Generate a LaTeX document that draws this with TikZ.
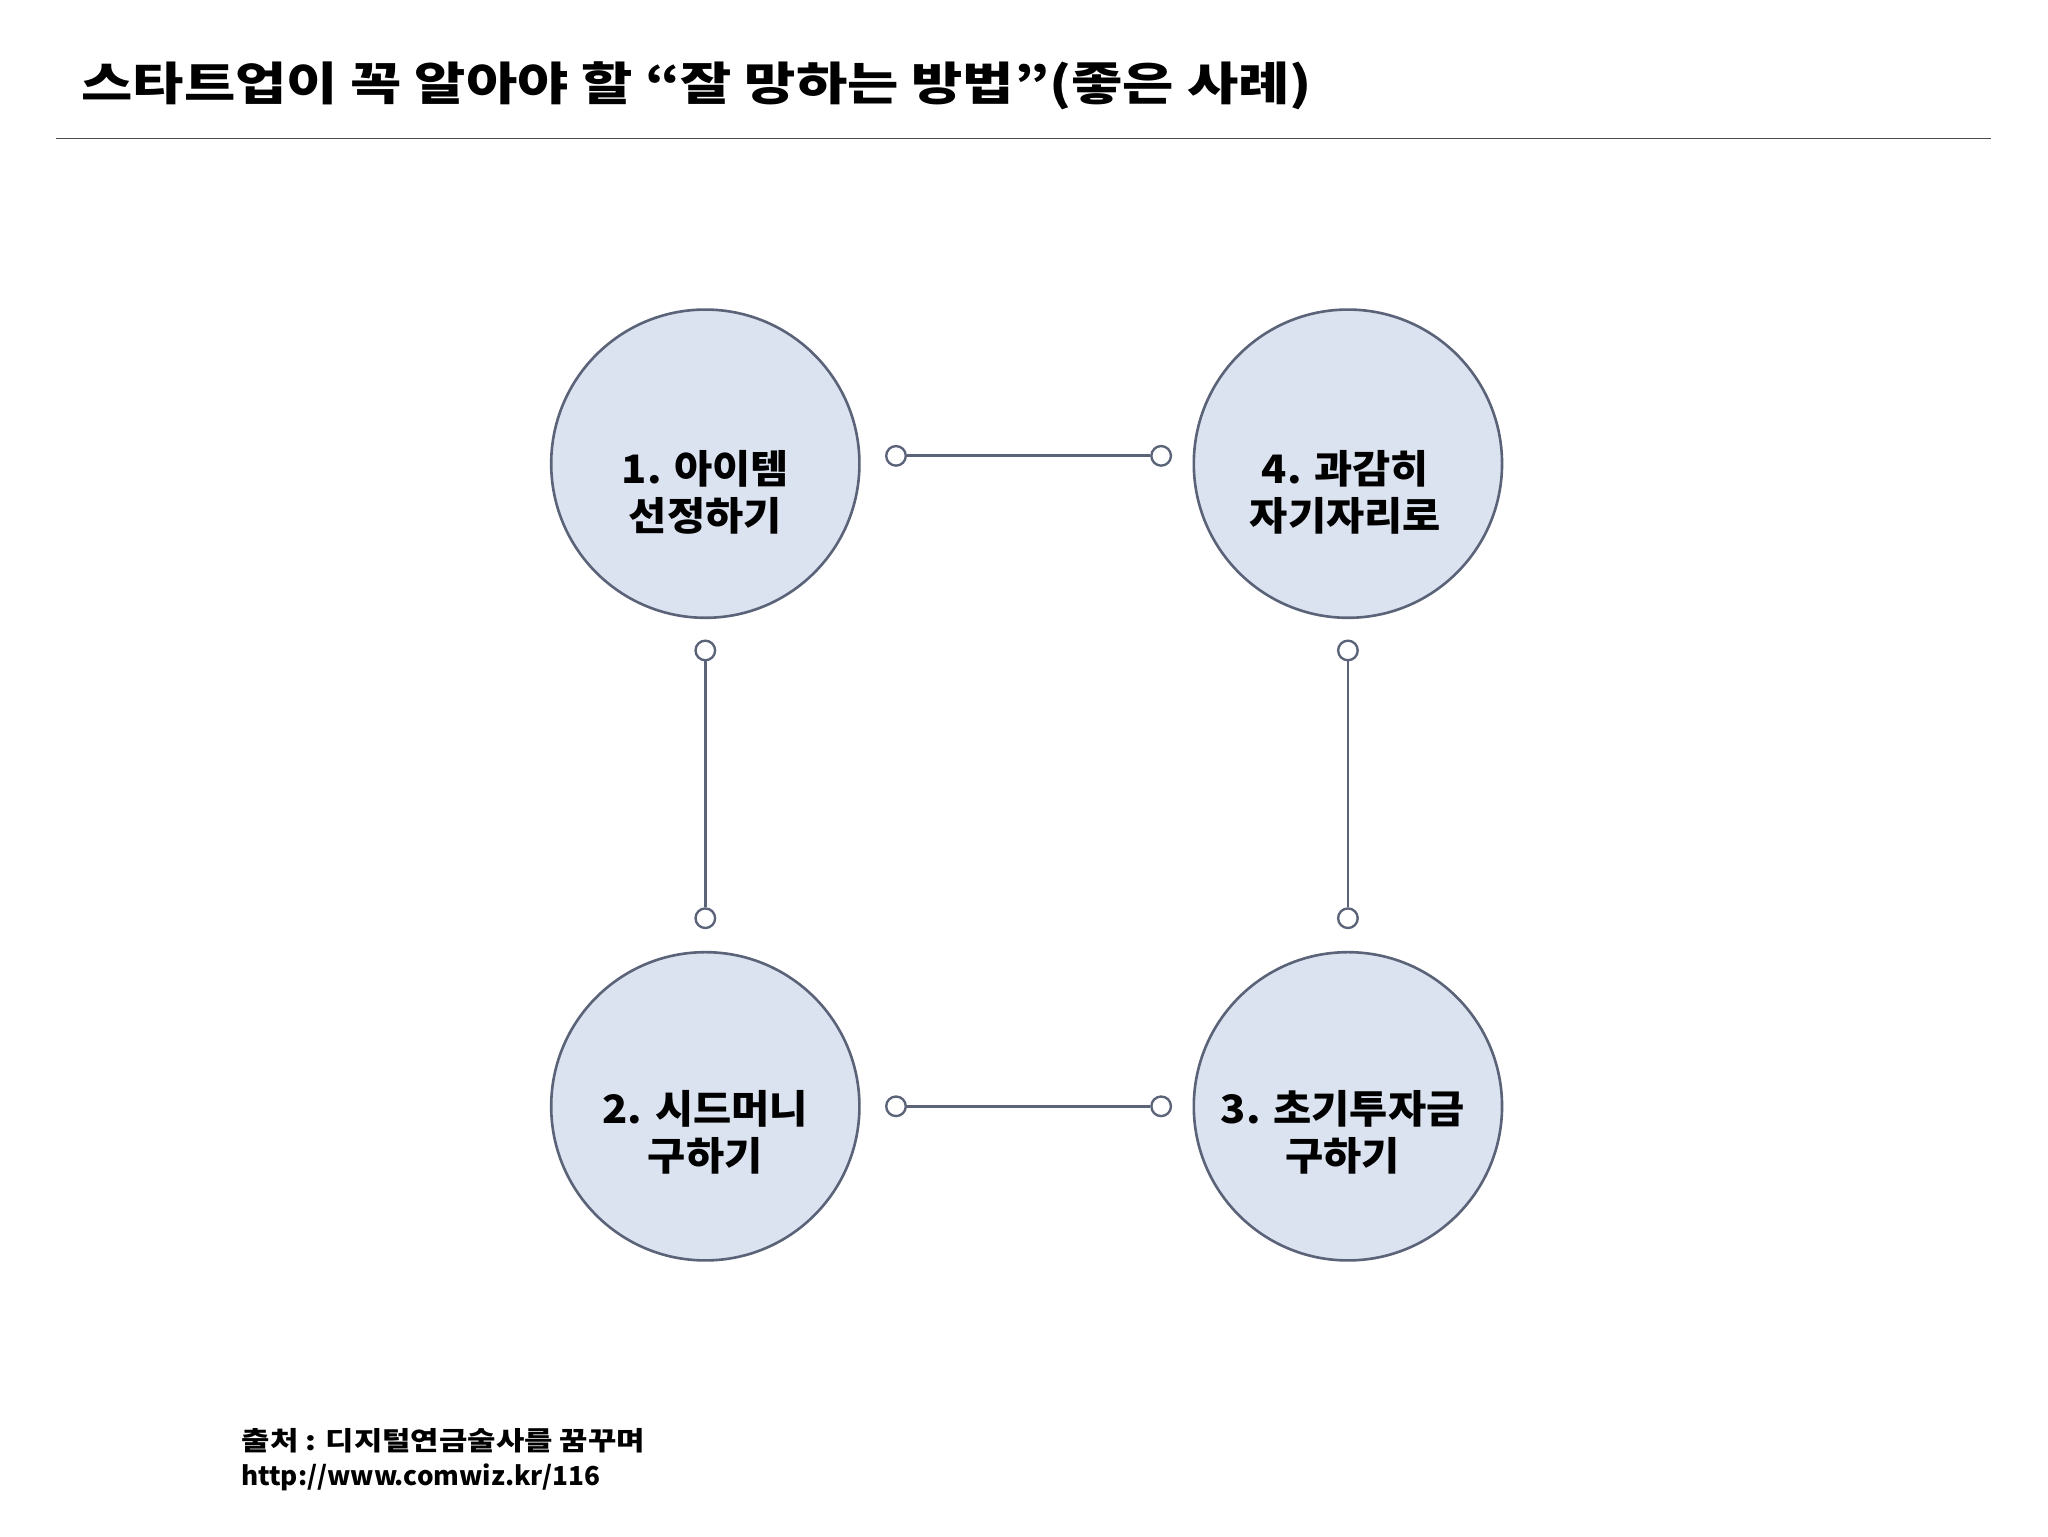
\documentclass[tikz,border=0pt]{standalone}
\usepackage{fontspec}
\setmainfont{Noto Sans CJK KR}
\definecolor{cfill}{HTML}{DCE3F0}
\definecolor{cline}{HTML}{5A6378}
\begin{document}
\begin{tikzpicture}[x=1pt,y=-1pt,
  big/.style={circle,draw=cline,line width=2pt,fill=cfill,minimum size=236pt,inner sep=0pt},
  txt/.style={align=center,font=\fontsize{30}{36}\selectfont\bfseries,xscale=1.06},
  dot/.style={circle,draw=cline,line width=1.8pt,fill=white,minimum size=15pt,inner sep=0pt},
  link/.style={draw=cline,line width=2.2pt}]
\useasboundingbox (0,0) rectangle (1568,1176);
\fill[white] (0,0) rectangle (1568,1176);
\node[anchor=west,font=\fontsize{35}{40}\selectfont\bfseries,xscale=1.22] (title) at (58,66) {스타트업이 꼭 알아야 할 “잘 망하는 방법”(좋은 사례)};
\draw[line width=1pt,black!70] (43,106) coordinate (l1) -- (1524,106) coordinate (l2);
\node[big] (c1) at (540,355) {};
\node[big] (c4) at (1032,355) {};
\node[big] (c2) at (540,847) {};
\node[big] (c3) at (1032,847) {};
\node[txt] (t1) at (540,377) {1. 아이템\\선정하기};
\node[txt] (t4) at (1030,377) {4. 과감히\\자기자리로};
\node[txt] (t2) at (540,867) {2. 시드머니\\구하기};
\node[txt] (t3) at (1028,867) {3. 초기투자금\\구하기};
\node[dot] (a1) at (686,349) {}; \node[dot] (a2) at (889,349) {};
\node[dot] (b1) at (540,498) {}; \node[dot] (b2) at (540,703) {};
\node[dot] (d1) at (1032,498) {}; \node[dot] (d2) at (1032,703) {};
\node[dot] (e1) at (686,847) {}; \node[dot] (e2) at (889,847) {};
\draw[link] (a1) -- (a2); \draw[link] (b1) -- (b2);
\draw[link] (d1) -- (d2); \draw[link] (e1) -- (e2);
\node[anchor=west,font=\fontsize{20}{24}\selectfont\bfseries,xscale=1.18] (src1) at (181,1103) {출처 : 디지털연금술사를 꿈꾸며};
\node[anchor=west,font=\fontsize{20}{24}\selectfont\bfseries] (src2) at (181,1131) {http://www.comwiz.kr/116};
\end{tikzpicture}
\end{document}
